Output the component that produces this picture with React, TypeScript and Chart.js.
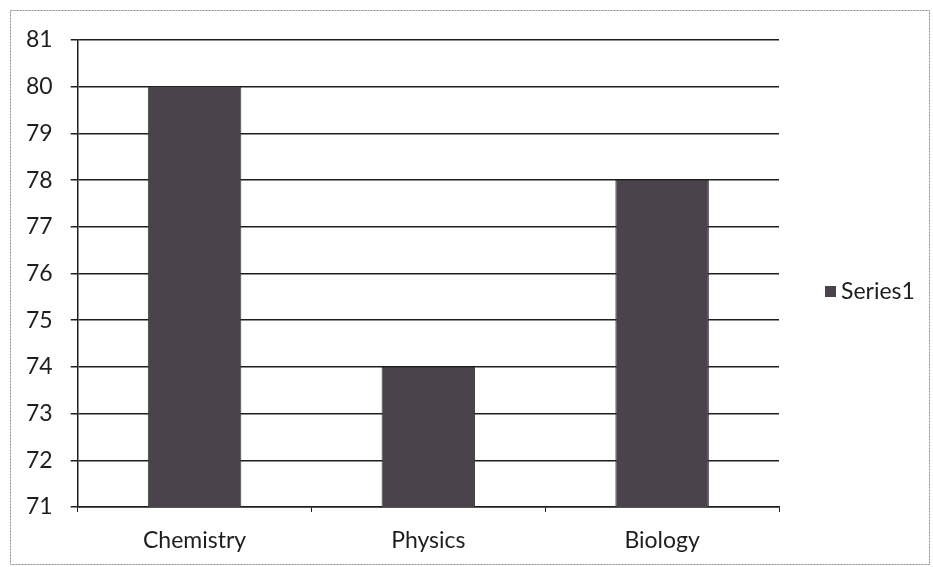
import React, { useEffect, useRef } from "react";
import { Chart, registerables } from "chart.js";

Chart.register(...registerables);

const categories = ["Chemistry", "Physics", "Biology"];
const series1 = [80, 74, 78];
const seriesName = "Series1";
const yMin = 71;
const yMax = 81;

const FONT = "Lato, 'Liberation Sans', sans-serif";
const BAR = "#4b434b";
const INK = "#1e1e1e";

const framePlugin = {
  id: "frame",
  beforeDraw(chart: any) {
    const ctx = chart.ctx;
    ctx.save();
    ctx.fillStyle = "#ffffff";
    ctx.fillRect(0, 0, chart.width, chart.height);
    ctx.strokeStyle = "#8a8a8a";
    ctx.lineWidth = 1;
    ctx.setLineDash([2, 1]);
    ctx.strokeRect(10.5, 10.5, chart.width - 14, chart.height - 13);
    ctx.restore();
  },
  afterDraw(chart: any) {
    const ctx = chart.ctx;
    const area = chart.chartArea;
    const cy = (chart.height + 17) / 2;
    const x = area.right + 46;
    ctx.save();
    ctx.fillStyle = BAR;
    ctx.fillRect(x, cy - 6, 11, 11);
    ctx.fillStyle = INK;
    ctx.font = `23px ${FONT}`;
    ctx.textBaseline = "middle";
    ctx.textAlign = "left";
    ctx.fillText(seriesName, x + 16, cy);
    ctx.restore();
  },
};

export default function App() {
  const ref = useRef<HTMLCanvasElement | null>(null);
  useEffect(() => {
    document.body.style.margin = "0";
    const chart = new Chart(ref.current!, {
      type: "bar",
      data: {
        labels: categories,
        datasets: [
          {
            label: seriesName,
            data: series1,
            backgroundColor: BAR,
            borderColor: "#3a333a",
            borderWidth: 1,
            categoryPercentage: 1,
            barPercentage: 0.4,
          },
        ],
      },
      options: {
        animation: false,
        responsive: false,
        maintainAspectRatio: false,
        layout: { padding: { left: 8, right: 154, top: 40, bottom: 12 } },
        plugins: {
          legend: { display: false },
          tooltip: { enabled: false },
        },
        scales: {
          x: {
            offset: true,
            afterFit: (scale: any) => {
              scale.height = 48;
            },
            grid: {
              offset: true,
              drawOnChartArea: false,
              drawTicks: true,
              tickLength: 5,
              color: INK,
            },
            border: { display: true, color: INK, width: 1.5 },
            ticks: {
              color: INK,
              font: { family: FONT, size: 23 },
              padding: 15,
            },
          },
          y: {
            min: yMin,
            max: yMax,
            ticks: {
              stepSize: 1,
              color: INK,
              font: { family: FONT, size: 23 },
              padding: 18,
            },
            grid: {
              color: INK,
              lineWidth: 1.5,
              tickLength: 7,
              drawTicks: true,
            },
            border: { display: true, color: INK, width: 1.5 },
          },
        },
      },
      plugins: [framePlugin],
    });
    return () => chart.destroy();
  }, []);
  return (
    <div style={{ position: "absolute", left: 0, top: 0, width: 933, height: 567 }}>
      <canvas ref={ref} width={933} height={567} />
    </div>
  );
}
